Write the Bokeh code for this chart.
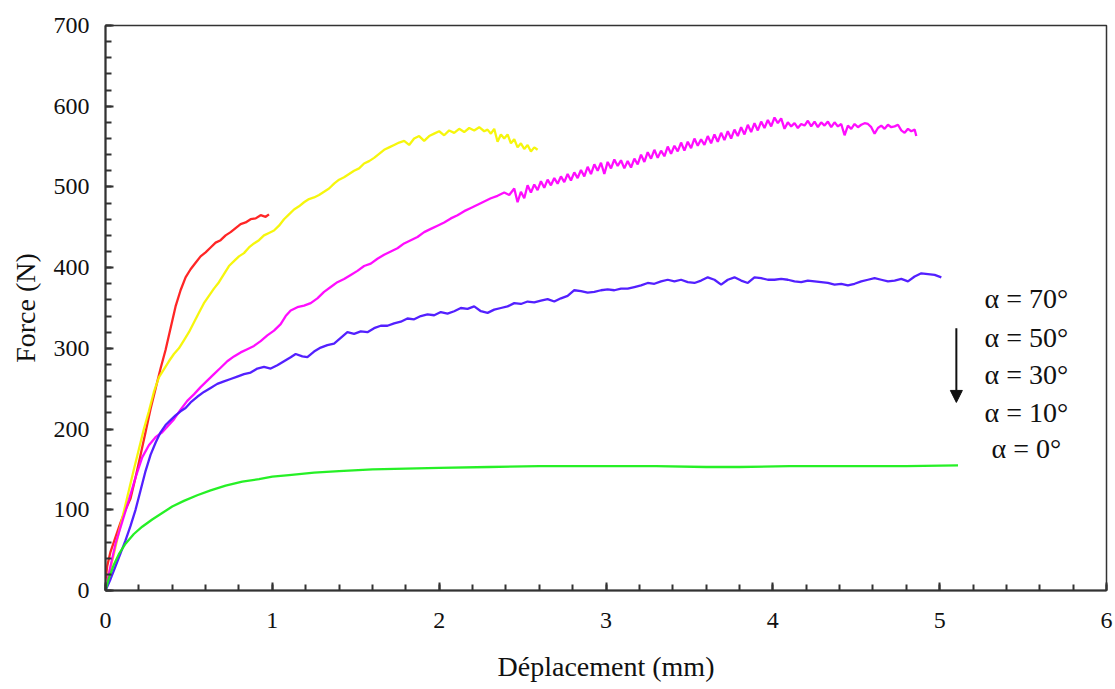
from bokeh.plotting import figure
from bokeh.models import Label, Arrow, NormalHead, SingleIntervalTicker, Range1d
from bokeh.embed import file_html
from bokeh.resources import INLINE

# Force–displacement curves, (displacement mm, force N)
curve_70 = [(0, 12), (0.01, 30), (0.03, 48), (0.06, 66), (0.09, 84), (0.12, 100), (0.15, 114),
            (0.18, 140), (0.21, 168), (0.24, 196), (0.27, 225), (0.30, 250), (0.33, 275),
            (0.36, 298), (0.39, 325), (0.42, 352), (0.45, 372), (0.48, 388), (0.51, 398),
            (0.54, 406), (0.57, 414), (0.60, 419), (0.63, 425), (0.66, 431), (0.69, 434),
            (0.72, 440), (0.75, 444), (0.78, 449), (0.81, 454), (0.84, 456), (0.87, 460),
            (0.90, 461), (0.93, 465), (0.96, 463), (0.98, 466)]

curve_50 = [(0, 0), (0.02, 20), (0.05, 45), (0.08, 72), (0.11, 98), (0.14, 124), (0.17, 150),
            (0.20, 175), (0.23, 200), (0.26, 222), (0.29, 246), (0.32, 264), (0.35, 274),
            (0.38, 284), (0.41, 293), (0.44, 300), (0.47, 310), (0.50, 320), (0.53, 332),
            (0.56, 344), (0.59, 356), (0.62, 365), (0.65, 374), (0.68, 382), (0.71, 392),
            (0.74, 402), (0.77, 408), (0.80, 414), (0.83, 418), (0.86, 425), (0.89, 430),
            (0.92, 434), (0.95, 440), (0.98, 443), (1.01, 446), (1.04, 452), (1.07, 460),
            (1.10, 466), (1.13, 472), (1.16, 476), (1.19, 481), (1.22, 485), (1.25, 487),
            (1.28, 490), (1.31, 494), (1.34, 498), (1.37, 504), (1.40, 509), (1.43, 512),
            (1.46, 516), (1.49, 520), (1.52, 523), (1.55, 529), (1.58, 532), (1.61, 536),
            (1.64, 541), (1.67, 546), (1.70, 549), (1.73, 552), (1.76, 555), (1.79, 557),
            (1.82, 552), (1.85, 560), (1.88, 563), (1.91, 557), (1.94, 563), (1.97, 566),
            (2.00, 569), (2.03, 564), (2.06, 570), (2.09, 567), (2.12, 572), (2.15, 568),
            (2.18, 573), (2.21, 570), (2.24, 574), (2.27, 569), (2.29, 571), (2.31, 566),
            (2.33, 572), (2.35, 556), (2.37, 565), (2.39, 560), (2.41, 565), (2.43, 554),
            (2.45, 559), (2.47, 549), (2.49, 554), (2.51, 547), (2.53, 552), (2.55, 544),
            (2.57, 549), (2.59, 546)]

curve_30 = [(0, 0), (0.03, 30), (0.06, 58), (0.10, 85), (0.14, 112), (0.18, 140), (0.22, 165),
            (0.26, 180), (0.30, 190), (0.34, 196), (0.37, 203), (0.41, 212), (0.45, 224),
            (0.49, 235), (0.53, 243), (0.57, 252), (0.61, 260), (0.65, 268), (0.69, 276),
            (0.73, 284), (0.77, 290), (0.81, 295), (0.85, 299), (0.89, 303), (0.93, 309),
            (0.97, 316), (1.01, 322), (1.05, 330), (1.08, 340), (1.11, 347), (1.15, 351),
            (1.19, 353), (1.23, 356), (1.27, 362), (1.31, 370), (1.35, 376), (1.39, 382),
            (1.43, 386), (1.47, 391), (1.51, 396), (1.55, 402), (1.59, 405), (1.63, 411),
            (1.67, 416), (1.71, 420), (1.75, 424), (1.79, 430), (1.83, 434), (1.87, 438),
            (1.91, 444), (1.95, 448), (1.99, 452), (2.03, 456), (2.07, 461), (2.11, 465),
            (2.15, 470), (2.19, 474), (2.23, 478), (2.27, 482), (2.31, 486), (2.35, 489),
            (2.39, 493), (2.42, 490), (2.45, 498), (2.47, 481), (2.49, 494), (2.51, 486),
            (2.53, 502), (2.55, 493), (2.57, 503), (2.59, 496), (2.61, 507), (2.63, 499),
            (2.65, 509), (2.67, 502), (2.69, 511), (2.71, 504), (2.73, 513), (2.75, 506),
            (2.77, 516), (2.79, 508), (2.81, 518), (2.83, 511), (2.85, 521), (2.87, 513),
            (2.89, 525), (2.91, 516), (2.93, 528), (2.95, 520), (2.97, 530), (2.99, 516),
            (3.01, 531), (3.03, 523), (3.05, 534), (3.07, 526), (3.09, 533), (3.11, 523),
            (3.13, 532), (3.15, 524), (3.17, 535), (3.19, 528), (3.21, 540), (3.23, 531),
            (3.25, 543), (3.27, 535), (3.29, 546), (3.31, 536), (3.33, 545), (3.35, 538),
            (3.37, 550), (3.39, 541), (3.41, 551), (3.43, 544), (3.45, 555), (3.47, 545),
            (3.49, 556), (3.51, 548), (3.53, 560), (3.55, 551), (3.57, 559), (3.59, 552),
            (3.61, 563), (3.63, 554), (3.65, 565), (3.67, 556), (3.69, 567), (3.71, 558),
            (3.73, 569), (3.75, 560), (3.77, 571), (3.79, 563), (3.81, 574), (3.83, 565),
            (3.85, 577), (3.87, 568), (3.89, 579), (3.91, 570), (3.93, 581), (3.95, 573),
            (3.97, 583), (3.99, 575), (4.01, 586), (4.03, 579), (4.05, 585), (4.07, 572),
            (4.09, 580), (4.11, 575), (4.13, 579), (4.15, 573), (4.17, 578), (4.19, 576),
            (4.21, 582), (4.23, 575), (4.25, 581), (4.27, 574), (4.29, 580), (4.31, 576),
            (4.33, 581), (4.35, 574), (4.37, 580), (4.39, 575), (4.41, 578), (4.43, 564),
            (4.45, 576), (4.47, 572), (4.49, 578), (4.51, 574), (4.53, 577), (4.55, 579),
            (4.57, 578), (4.59, 574), (4.61, 566), (4.63, 573), (4.65, 576), (4.67, 572),
            (4.69, 577), (4.71, 574), (4.73, 575), (4.75, 577), (4.77, 570), (4.79, 567),
            (4.81, 572), (4.83, 569), (4.85, 571), (4.86, 563)]

curve_10 = [(0, 0), (0.03, 14), (0.06, 30), (0.09, 46), (0.12, 62), (0.15, 80), (0.18, 100),
            (0.21, 124), (0.24, 148), (0.27, 168), (0.30, 183), (0.33, 196), (0.36, 205),
            (0.39, 211), (0.42, 217), (0.45, 222), (0.48, 226), (0.51, 233), (0.55, 240),
            (0.59, 246), (0.63, 251), (0.67, 256), (0.71, 259), (0.75, 262), (0.79, 265),
            (0.83, 268), (0.87, 270), (0.91, 275), (0.95, 277), (0.99, 275), (1.03, 279),
            (1.07, 284), (1.11, 289), (1.14, 293), (1.18, 290), (1.21, 289), (1.25, 296),
            (1.29, 301), (1.33, 304), (1.37, 306), (1.41, 313), (1.45, 320), (1.49, 318),
            (1.53, 321), (1.57, 320), (1.61, 325), (1.65, 328), (1.69, 328), (1.73, 331),
            (1.77, 333), (1.81, 337), (1.85, 336), (1.89, 340), (1.93, 342), (1.97, 341),
            (2.01, 345), (2.05, 343), (2.09, 346), (2.13, 350), (2.17, 349), (2.21, 352),
            (2.25, 346), (2.29, 344), (2.33, 348), (2.37, 350), (2.41, 352), (2.45, 356),
            (2.49, 355), (2.53, 358), (2.57, 357), (2.61, 359), (2.65, 361), (2.69, 358),
            (2.73, 362), (2.77, 365), (2.81, 372), (2.85, 371), (2.89, 369), (2.93, 370),
            (2.97, 372), (3.01, 373), (3.05, 372), (3.09, 374), (3.13, 374), (3.17, 376),
            (3.21, 378), (3.25, 381), (3.29, 380), (3.33, 383), (3.37, 385), (3.41, 383),
            (3.45, 385), (3.49, 382), (3.53, 381), (3.57, 384), (3.61, 388), (3.65, 385),
            (3.69, 379), (3.73, 385), (3.77, 388), (3.81, 384), (3.85, 381), (3.89, 388),
            (3.93, 387), (3.97, 385), (4.01, 385), (4.05, 386), (4.09, 385), (4.13, 383),
            (4.17, 382), (4.21, 384), (4.25, 383), (4.29, 382), (4.33, 381), (4.37, 379),
            (4.41, 380), (4.45, 378), (4.49, 380), (4.53, 383), (4.57, 385), (4.61, 387),
            (4.65, 385), (4.69, 383), (4.73, 384), (4.77, 386), (4.81, 383), (4.85, 389),
            (4.89, 393), (4.93, 392), (4.97, 391), (5.01, 388)]

curve_0 = [(0, 0), (0.02, 15), (0.05, 32), (0.08, 45), (0.12, 58), (0.17, 70), (0.22, 79),
           (0.28, 88), (0.34, 96), (0.40, 104), (0.47, 111), (0.55, 118), (0.63, 124),
           (0.72, 130), (0.82, 135), (0.92, 138), (1.0, 141), (1.1, 143), (1.25, 146),
           (1.4, 148), (1.6, 150), (1.8, 151), (2.0, 152), (2.3, 153), (2.6, 154), (3.0, 154),
           (3.3, 154), (3.6, 153), (3.8, 153), (4.1, 154), (4.4, 154), (4.8, 154), (5.11, 155)]

series_colors = ["#ff1a1a", "#f5f500", "#ff00ff", "#4a14ff", "#1aef1a"]
legend_lines = ["α = 70°", "α = 50°", "α = 30°", "α = 10°", "α = 0°"]

x_ticks = [0, 1, 2, 3, 4, 5, 6]
y_ticks = [0, 100, 200, 300, 400, 500, 600, 700]

SERIF = "Liberation Serif"

p = figure(width=1115, height=689, output_backend="svg", toolbar_location=None,
           x_range=Range1d(0, 6), y_range=Range1d(0, 700),
           min_border_left=105, min_border_right=9, min_border_top=25, min_border_bottom=99)
p.grid.visible = False
p.outline_line_color = "#333333"
p.outline_line_width = 1.5
p.background_fill_color = "white"
p.border_fill_color = "white"

for curve, col in zip([curve_70, curve_50, curve_30, curve_10, curve_0], series_colors):
    xs = [c[0] for c in curve]
    ys = [c[1] for c in curve]
    p.line(xs, ys, line_color=col, line_width=2.3, line_alpha=0.95)

p.xaxis.ticker = SingleIntervalTicker(interval=1, num_minor_ticks=5)
p.yaxis.ticker = SingleIntervalTicker(interval=100, num_minor_ticks=5)
p.xaxis.major_label_overrides = {t: str(t) for t in x_ticks}

for ax in (p.xaxis[0], p.yaxis[0]):
    ax.axis_line_color = "#333333"
    ax.axis_line_width = 2
    ax.major_tick_line_color = "#333333"
    ax.minor_tick_line_color = "#333333"
    ax.major_tick_line_width = 2
    ax.minor_tick_line_width = 2
    ax.major_tick_in = 8
    ax.major_tick_out = 0
    ax.minor_tick_in = 6
    ax.minor_tick_out = 0
    ax.major_label_text_font = SERIF
    ax.major_label_text_font_size = "24px"
    ax.major_label_text_color = "#111111"
    ax.axis_label_text_font = SERIF
    ax.axis_label_text_font_size = "28px"
    ax.axis_label_text_font_style = "normal"
    ax.axis_label_text_color = "#111111"

p.xaxis.axis_label = "Déplacement (mm)"
p.yaxis.axis_label = "Force (N)"
p.xaxis.major_label_standoff = 22
p.yaxis.major_label_standoff = 16
p.xaxis.axis_label_standoff = 20
p.yaxis.axis_label_standoff = 10

# angle annotations beside the curves
label_y = [362, 314, 268, 220, 176]
for txt, yy in zip(legend_lines, label_y):
    p.add_layout(Label(x=5.52, y=yy, text=txt, text_font=SERIF, text_font_size="28px",
                       text_align="center", text_baseline="middle", text_color="#111111"))

p.add_layout(Arrow(x_start=5.1, y_start=325, x_end=5.1, y_end=233, line_width=2,
                   line_color="#111111",
                   end=NormalHead(size=12, fill_color="#111111", line_color="#111111")))

open("out.html", "w").write(file_html(p, INLINE))
